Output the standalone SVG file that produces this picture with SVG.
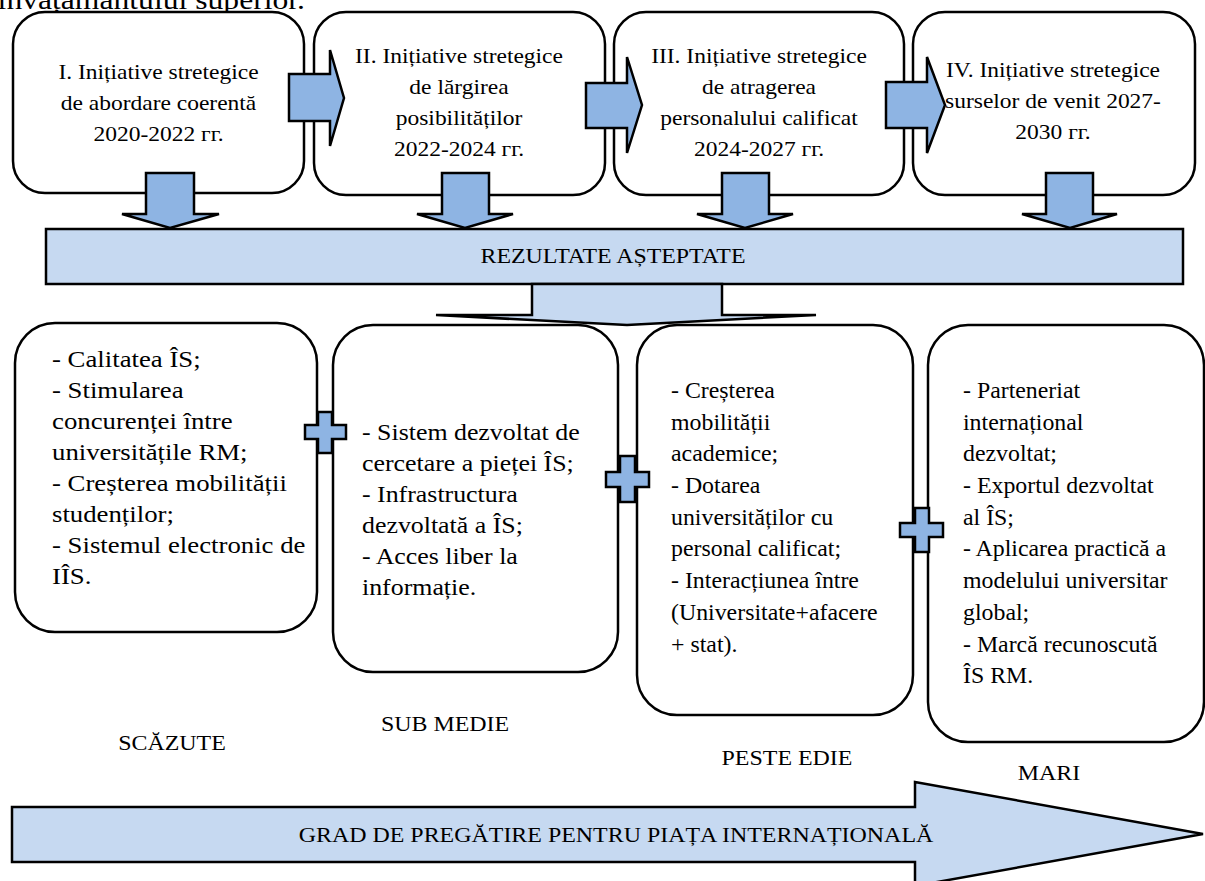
<svg xmlns="http://www.w3.org/2000/svg" width="1205" height="881" viewBox="0 0 1205 881">
<style>
.t{font-family:"Liberation Serif","Times New Roman",serif;fill:#000}
.box{fill:#fff;stroke:#000;stroke-width:2.5}
.arr{fill:#8EB4E3;stroke:#000;stroke-width:2.5;stroke-linejoin:miter}
.lt{fill:#C6D9F1;stroke:#000;stroke-width:2.5;stroke-linejoin:miter}
</style>
<rect width="1205" height="881" fill="#fff"/>
<text class="t" font-family="Liberation Serif, serif" font-size="28" transform="matrix(1.13 0 0 1 305 0)" text-anchor="end" y="9">învățământului superior.</text>

<g id="top1"><rect class="box" x="13" y="12" width="291" height="181" rx="32"/>
<text class="t" font-family="Liberation Serif, serif" font-size="20.7" text-anchor="middle" transform="matrix(1.135 0 0 1 158.5 0)"><tspan x="0" y="79">I. Inițiative stretegice</tspan><tspan x="0" y="110">de abordare coerentă</tspan><tspan x="0" y="141">2020-2022 гг.</tspan></text></g>
<g id="top2"><rect class="box" x="314" y="12" width="291" height="183" rx="32"/>
<text class="t" font-family="Liberation Serif, serif" font-size="20.7" text-anchor="middle" transform="matrix(1.135 0 0 1 459 0)"><tspan x="0" y="63">II. Inițiative stretegice</tspan><tspan x="0" y="94">de lărgirea</tspan><tspan x="0" y="125">posibilităților</tspan><tspan x="0" y="156">2022-2024 гг.</tspan></text></g>
<g id="top3"><rect class="box" x="614" y="12" width="290" height="183" rx="32"/>
<text class="t" font-family="Liberation Serif, serif" font-size="20.7" text-anchor="middle" transform="matrix(1.135 0 0 1 759 0)"><tspan x="0" y="63">III. Inițiative stretegice</tspan><tspan x="0" y="94">de atragerea</tspan><tspan x="0" y="125">personalului calificat</tspan><tspan x="0" y="156">2024-2027 гг.</tspan></text></g>
<g id="top4"><rect class="box" x="913" y="12" width="282" height="183" rx="32"/>
<text class="t" font-family="Liberation Serif, serif" font-size="20.7" text-anchor="middle" transform="matrix(1.135 0 0 1 1053 0)"><tspan x="0" y="77">IV. Inițiative stretegice</tspan><tspan x="0" y="108">surselor de venit 2027-</tspan><tspan x="0" y="139">2030 гг.</tspan></text></g>

<g id="rezultate"><rect class="lt" x="46" y="229" width="1137" height="55"/>
<text class="t" font-family="Liberation Serif, serif" font-size="21.5" text-anchor="middle" transform="matrix(1.11 0 0 1 613 0)" x="0" y="263">REZULTATE AȘTEPTATE</text></g>

<g id="res1"><rect class="box" x="15" y="323" width="302" height="309" rx="40"/>
<text class="t" font-family="Liberation Serif, serif" font-size="22.5" transform="matrix(1.19 0 0 1 52 0)"><tspan x="0" y="367">- Calitatea ÎS;</tspan><tspan x="0" y="398">- Stimularea</tspan><tspan x="0" y="429">concurenței între</tspan><tspan x="0" y="460">universitățile RM;</tspan><tspan x="0" y="491">- Creșterea mobilității</tspan><tspan x="0" y="522">studenților;</tspan><tspan x="0" y="553">- Sistemul electronic de</tspan><tspan x="0" y="584">IÎS.</tspan></text></g>
<g id="res2"><rect class="box" x="333" y="325" width="285" height="347" rx="40"/>
<text class="t" font-family="Liberation Serif, serif" font-size="22.5" transform="matrix(1.15 0 0 1 362 0)"><tspan x="0" y="440">- Sistem dezvoltat de</tspan><tspan x="0" y="471">cercetare a pieței ÎS;</tspan><tspan x="0" y="502">- Infrastructura</tspan><tspan x="0" y="533">dezvoltată a ÎS;</tspan><tspan x="0" y="564">- Acces liber la</tspan><tspan x="0" y="595">informație.</tspan></text></g>
<g id="res3"><rect class="box" x="637" y="325" width="276" height="390" rx="40"/>
<text class="t" font-family="Liberation Serif, serif" font-size="22.5" transform="matrix(1.06 0 0 1 671 0)"><tspan x="0" y="398">- Creșterea</tspan><tspan x="0" y="430">mobilității</tspan><tspan x="0" y="461">academice;</tspan><tspan x="0" y="493">- Dotarea</tspan><tspan x="0" y="525">universităților cu</tspan><tspan x="0" y="556">personal calificat;</tspan><tspan x="0" y="588">- Interacțiunea între</tspan><tspan x="0" y="620">(Universitate+afacere</tspan><tspan x="0" y="652">+ stat).</tspan></text></g>
<g id="res4"><rect class="box" x="928" y="325" width="276" height="417" rx="40"/>
<text class="t" font-family="Liberation Serif, serif" font-size="22.5" transform="matrix(1.06 0 0 1 963 0)"><tspan x="0" y="398">- Parteneriat</tspan><tspan x="0" y="430">internațional</tspan><tspan x="0" y="461">dezvoltat;</tspan><tspan x="0" y="493">- Exportul dezvoltat</tspan><tspan x="0" y="525">al ÎS;</tspan><tspan x="0" y="556">- Aplicarea practică a</tspan><tspan x="0" y="588">modelului universitar</tspan><tspan x="0" y="620">global;</tspan><tspan x="0" y="652">- Marcă recunoscută</tspan><tspan x="0" y="683">ÎS RM.</tspan></text></g>

<g id="labels">
<text class="t" font-family="Liberation Serif, serif" font-size="21" text-anchor="middle" transform="matrix(1.14 0 0 1 172 0)" x="0" y="750">SCĂZUTE</text>
<text class="t" font-family="Liberation Serif, serif" font-size="21" text-anchor="middle" transform="matrix(1.14 0 0 1 445 0)" x="0" y="731">SUB MEDIE</text>
<text class="t" font-family="Liberation Serif, serif" font-size="21" text-anchor="middle" transform="matrix(1.14 0 0 1 787 0)" x="0" y="765">PESTE EDIE</text>
<text class="t" font-family="Liberation Serif, serif" font-size="21" text-anchor="middle" transform="matrix(1.14 0 0 1 1049 0)" x="0" y="780">MARI</text>
</g>

<g id="grad"><polygon class="lt" points="12,807 915,807 915,782 1203,834 915,886 915,862 12,862"/>
<text class="t" font-family="Liberation Serif, serif" font-size="21" text-anchor="middle" transform="matrix(1.14 0 0 1 616 0)" x="0" y="842">GRAD DE PREGĂTIRE PENTRU PIAȚA INTERNAȚIONALĂ</text></g>

<g id="connectors">
<polygon class="arr" points="289,74 330,74 330,50 344,98 330,146 330,121 289,121"/>
<polygon class="arr" points="586,83 627,83 627,57 642,105 627,153 627,128 586,128"/>
<polygon class="arr" points="886,82 927,82 927,57 945,105 927,153 927,128 886,128"/>
<polygon class="arr" points="146,173 194,173 194,214 219,214 170,228 122,214 146,214"/>
<polygon class="arr" points="442,173 489,173 489,214 513,214 465,228 417,214 442,214"/>
<polygon class="arr" points="722,173 769,173 769,214 793,214 745,228 697,214 722,214"/>
<polygon class="arr" points="1046,173 1093,173 1093,214 1117,214 1070,228 1022,214 1046,214"/>
<polygon class="lt" points="532,284 722,284 722,315 816,315 627,325 436,315 532,315"/>
<polygon class="arr" points="318,412 332,412 332,425 346,425 346,439 332,439 332,453 318,453 318,439 305,439 305,425 318,425"/>
<polygon class="arr" points="620,456 635,456 635,472 649,472 649,487 635,487 635,502 620,502 620,487 606,487 606,472 620,472"/>
<polygon class="arr" points="915,508 929,508 929,523 943,523 943,537 929,537 929,552 915,552 915,537 900,537 900,523 915,523"/>
</g>
</svg>
